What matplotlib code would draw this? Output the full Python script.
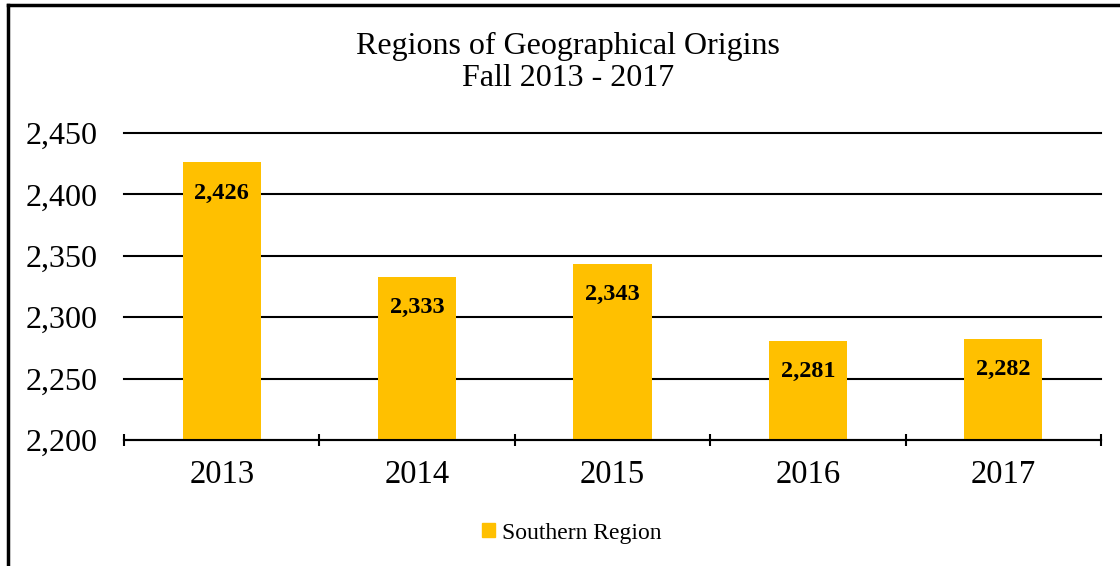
import matplotlib.pyplot as plt
from matplotlib.ticker import FuncFormatter
from matplotlib.patches import Rectangle
from matplotlib.lines import Line2D

years = ['2013', '2014', '2015', '2016', '2017']
southern = [2426, 2333, 2343, 2281, 2282]

plt.rcParams['font.family'] = ['Liberation Serif', 'DejaVu Serif']

fig = plt.figure(figsize=(11.2, 5.66), dpi=100)
ax = fig.add_axes([124 / 1120, 1 - 440 / 566, (1101 - 124) / 1120, (440 - 133) / 566])

x = range(len(years))
bars = ax.bar(x, southern, width=0.4, color='#FFC000', zorder=2, label='Southern Region')
for xi, v in zip(x, southern):
    ax.annotate(f'{v:,}', (xi, v), xytext=(0, -22), textcoords='offset points',
                ha='center', va='center', fontsize=17.5, fontweight='bold', zorder=3)

ax.set_ylim(2200, 2450)
ax.set_yticks(range(2200, 2451, 50))
ax.yaxis.set_major_formatter(FuncFormatter(lambda v, p: f'{int(v):,}'))
ax.yaxis.grid(True, color='black', linewidth=1.5, zorder=0)
for gl in ax.get_ygridlines():
    gl.set_clip_on(False)
ax.set_xlim(-0.5, len(years) - 0.5)
ax.set_xticks(list(x))
ax.set_xticklabels(years)
ax.set_xticks([i - 0.5 for i in range(len(years) + 1)], minor=True)

for s in ['top', 'right', 'left']:
    ax.spines[s].set_visible(False)
ax.spines['bottom'].set_linewidth(1.5)
ax.tick_params(axis='y', length=0, labelsize=23, pad=19)
ax.tick_params(axis='x', which='major', length=0, labelsize=23.5, pad=14)
ax.tick_params(axis='x', which='minor', length=9, width=1.5, direction='inout')

fig.text(568 / 1120, 1 - 46 / 566, 'Regions of Geographical Origins', ha='center', va='center', fontsize=23)
fig.text(568 / 1120, 1 - 79 / 566, 'Fall 2013 - 2017', ha='center', va='center', fontsize=23)

handle = Rectangle((0, 0), 1, 1, color='#FFC000')
fig.legend([handle], ['Southern Region'], loc='center', bbox_to_anchor=(572 / 1120, 1 - 533 / 566),
           frameon=False, fontsize=17, handlelength=0.55, handleheight=0.55, handletextpad=0.3)

# chart border: left and top edges
fig.add_artist(Line2D([8 / 1120, 8 / 1120], [0, 1 - 5 / 566], color='black', linewidth=2.5))
fig.add_artist(Line2D([8 / 1120, 1], [1 - 5 / 566, 1 - 5 / 566], color='black', linewidth=2.5))

fig.savefig('out.png', dpi=100)
